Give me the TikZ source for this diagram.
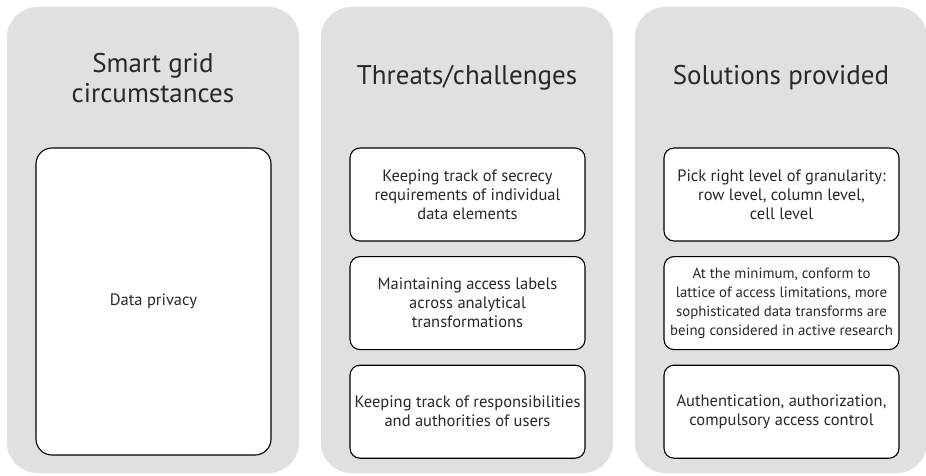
\documentclass[tikz,border=0pt]{standalone}
\usepackage{fontspec}
\setmainfont{PT Sans}
\usetikzlibrary{positioning}
\definecolor{panelgray}{RGB}{224,224,224}
\definecolor{inkgray}{RGB}{40,40,40}
\begin{document}
\begin{tikzpicture}[x=1pt, y=-1pt, line join=round, text=inkgray,
  panel/.style={fill=panelgray, rounded corners=30pt, minimum width=292pt, minimum height=466pt, inner sep=0pt},
  head/.style={align=center, font=\fontsize{27}{30}\selectfont},
  box/.style={draw=black, fill=white, line width=1.1pt, rounded corners=10pt, minimum width=235pt, minimum height=93pt, inner sep=0pt, align=center, font=\fontsize{16.5}{19}\selectfont},
  node distance=14.5pt]
\useasboundingbox (0,0) rectangle (926,476);
% three columns
\node[panel] (p1) at (153,240) {};
\node[panel] (p2) at (467,240) {};
\node[panel] (p3) at (781,240) {};
\node[head] (h1) at (153,78) {Smart grid\\circumstances};
\node[head] (h2) at (467,78) {Threats/challenges};
\node[head] (h3) at (781,78) {Solutions provided};
% left column
\node[box, rounded corners=16pt, minimum height=307pt] (c1) at (153.5,301.5) {Data privacy};
% middle column
\node[box] (t1) at (467.5,194.5) {Keeping track of secrecy\\requirements of individual\\data elements};
\node[box, below=of t1] (t2) {Maintaining access labels\\across analytical\\transformations};
\node[box, below=of t2] (t3) {Keeping track of responsibilities\\and authorities of users};
% right column
\node[box] (s1) at (781.5,194.5) {Pick right level of granularity:\\row level, column level,\\cell level};
\node[box, below=of s1, font=\fontsize{14.8}{19}\selectfont] (s2) {At the minimum, conform to\\lattice of access limitations, more\\sophisticated data transforms are\\being considered in active research};
\node[box, below=of s2] (s3) {Authentication, authorization,\\compulsory access control};
\end{tikzpicture}
\end{document}
